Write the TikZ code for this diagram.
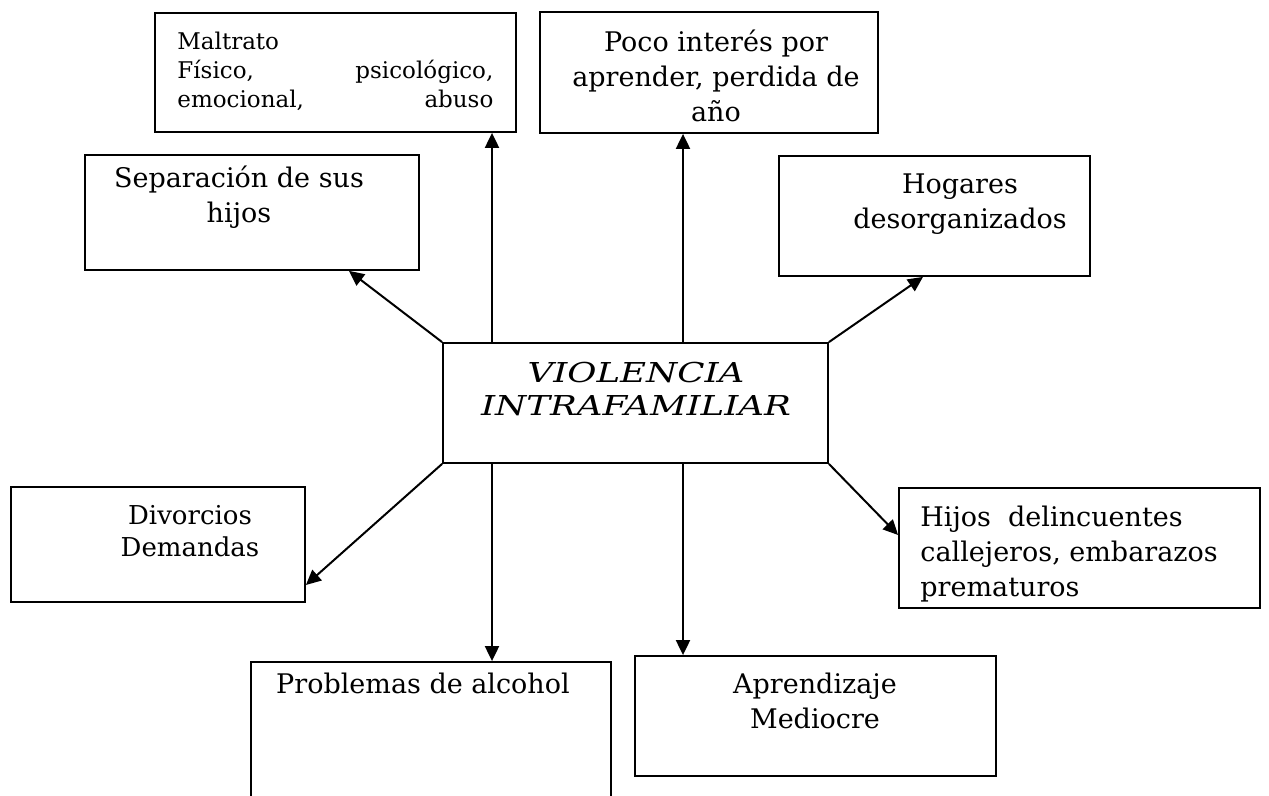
\documentclass[tikz,border=0pt]{standalone}
\usepackage{fontspec}
\setmainfont{DejaVu Serif}
\newfontfamily\widefont[FakeStretch=1.3]{DejaVu Serif}
\usetikzlibrary{arrows.meta, positioning, fit}
\tikzset{
  caja/.style={rectangle, draw=black, line width=0.9pt, inner sep=0pt},
  texto/.style={inner sep=0pt, anchor=north, align=center,
    font=\fontsize{13.5}{17.5}\selectfont},
  flecha/.style={-{Triangle[length=7.5pt,width=7pt]}, line width=1pt, color=black}
}

\begin{document}
\begin{tikzpicture}[x=0.5pt, y=-0.5pt]
  \useasboundingbox (0,0) rectangle (1269,796);

  % Centro
  \node[caja, fit={(443,343) (828,463)}] (centro) {};
  \node[texto, font=\widefont\itshape\fontsize{13.7}{16.5}\selectfont] (centrot) at (636,362) {VIOLENCIA\\INTRAFAMILIAR};

  % Cajas de arriba
  \node[caja, fit={(155,13) (516,132)}] (maltrato) {};
  \node[texto, anchor=north west, align=left, text width=158pt,
    font=\fontsize{11.5}{14.5}\selectfont] (maltratot) at (177,32)
    {Maltrato\\Físico,\hfill psicológico,\\emocional,\hfill abuso};

  \node[caja, fit={(540,12) (878,133)}] (poco) {};
  \node[texto] (pocot) at (716,30) {Poco interés por\\aprender, perdida de\\año};

  \node[caja, fit={(85,155) (419,270)}] (separacion) {};
  \node[texto] (separaciont) at (239,166) {Separación de sus\\hijos};

  \node[caja, fit={(779,156) (1090,276)}] (hogares) {};
  \node[texto] (hogarest) at (960,173) {Hogares\\desorganizados};

  % Cajas de abajo
  \node[caja, fit={(11,487) (305,602)}] (divorcios) {};
  \node[texto, font=\fontsize{13}{16}\selectfont] (divorciost) at (190,505) {Divorcios\\Demandas};

  \node[caja, fit={(899,488) (1260,608)}] (hijos) {};
  \node[texto, anchor=north west, align=left] (hijost) at (920,506)
    {Hijos\ \ delincuentes\\callejeros, embarazos\\prematuros};

  \node[caja, fit={(251,662) (611,802)}] (problemas) {};
  \node[texto] (problemast) at (423,673) {Problemas de alcohol};

  \node[caja, fit={(635,656) (996,776)}] (aprendizaje) {};
  \node[texto] (aprendizajet) at (815,673) {Aprendizaje\\Mediocre};

  % Flechas
  \coordinate (xa) at (492,0);
  \coordinate (xb) at (683,0);
  \coordinate (ta) at (349,0);
  \coordinate (tb) at (923,0);
  \coordinate (tc) at (0,585);
  \coordinate (td) at (0,535);
  \draw[flecha] (centro.north -| xa) -- (maltrato.south -| xa);
  \draw[flecha] (centro.north -| xb) -- (poco.south -| xb);
  \draw[flecha] (centro.north west) -- (separacion.south -| ta);
  \draw[flecha] (centro.north east) -- (hogares.south -| tb);
  \draw[flecha] (centro.south west) -- (divorcios.east |- tc);
  \draw[flecha] (centro.south east) -- (hijos.west |- td);
  \draw[flecha] (centro.south -| xa) -- (problemas.north -| xa);
  \draw[flecha] (centro.south -| xb) -- (aprendizaje.north -| xb);
\end{tikzpicture}
\end{document}
